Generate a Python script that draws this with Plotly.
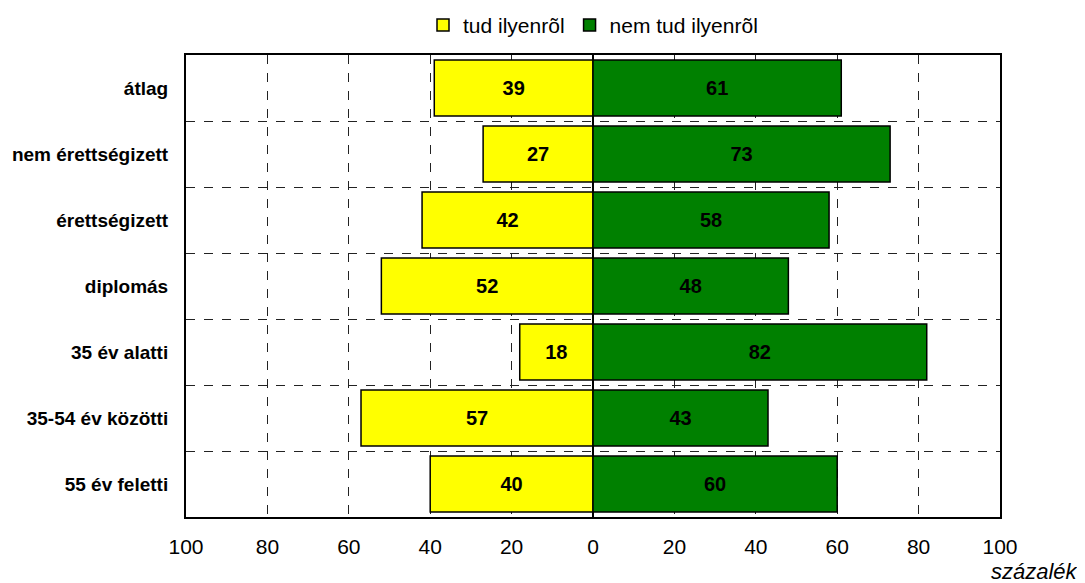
import plotly.graph_objects as go

categories = ["átlag", "nem érettségizett", "érettségizett", "diplomás",
              "35 év alatti", "35-54 év közötti", "55 év feletti"]
tud = [39, 27, 42, 52, 18, 57, 40]
nem_tud = [61, 73, 58, 48, 82, 43, 60]
tick_vals = [-100, -80, -60, -40, -20, 0, 20, 40, 60, 80, 100]
tick_text = [str(abs(v)) for v in tick_vals]

FONT = "Liberation Sans, Arial, sans-serif"

fig = go.Figure()
fig.add_trace(go.Bar(
    y=categories, x=[-v for v in tud], orientation="h", name="tud ilyenrõl",
    marker=dict(color="#FFFF00", line=dict(color="black", width=1.5)),
    text=[str(v) for v in tud], textposition="inside", insidetextanchor="middle",
    textfont=dict(family=FONT, size=20, color="black", weight="bold"),
    width=0.85,
))
fig.add_trace(go.Bar(
    y=categories, x=nem_tud, orientation="h", name="nem tud ilyenrõl",
    marker=dict(color="#008000", line=dict(color="black", width=1.5)),
    text=[str(v) for v in nem_tud], textposition="inside", insidetextanchor="middle",
    textfont=dict(family=FONT, size=20, color="black", weight="bold"),
    width=0.85,
))

fig.update_layout(
    width=1077, height=575,
    barmode="relative",
    plot_bgcolor="white", paper_bgcolor="white",
    margin=dict(l=178, r=85, t=47, b=66, autoexpand=False),
    font=dict(family=FONT, color="black"),
    legend=dict(orientation="h", x=0.5, xanchor="center", xref="paper",
                y=0.97, yanchor="middle", yref="container",
                font=dict(family=FONT, size=21), traceorder="normal",
                itemwidth=30),
    xaxis=dict(range=[-100, 100], tickvals=tick_vals, ticktext=tick_text,
               showgrid=True, gridcolor="#222222", griddash="dash", gridwidth=1,
               zeroline=True, zerolinecolor="black", zerolinewidth=2,
               showline=True, linecolor="black", linewidth=2, mirror=True,
               ticks="", tickfont=dict(family=FONT, size=21), ticklabelstandoff=10),
    yaxis=dict(categoryorder="array", categoryarray=categories, autorange="reversed",
               tickson="boundaries", showgrid=True, gridcolor="#222222", griddash="dash",
               gridwidth=1, showline=True, linecolor="black", linewidth=2, mirror=True,
               ticks="", tickfont=dict(family=FONT, size=19, weight="bold"),
               ticklabelstandoff=12),
    annotations=[dict(text="<i>százalék</i>", xref="paper", yref="paper",
                      x=1.098, y=-0.119, xanchor="right", yanchor="middle", showarrow=False,
                      font=dict(family=FONT, size=22))],
)

fig.write_html("out.html")
